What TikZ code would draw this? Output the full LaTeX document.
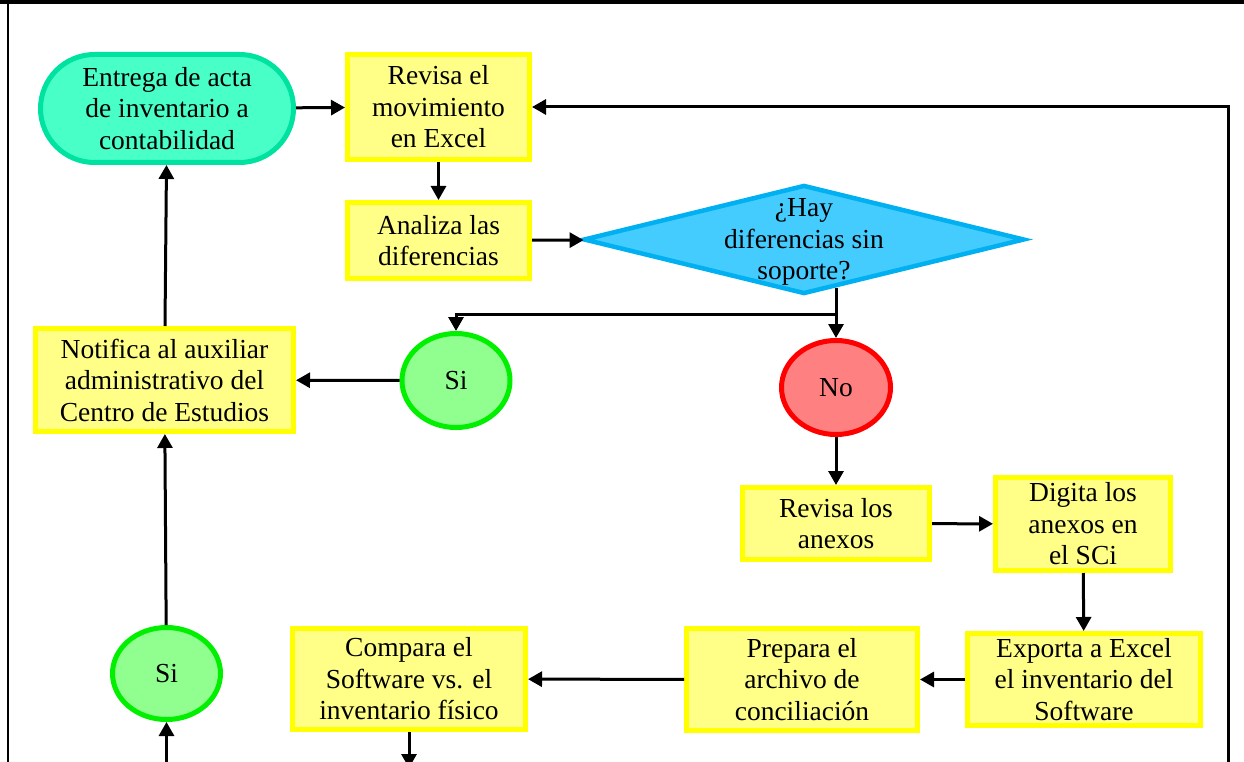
\documentclass[tikz,border=0pt]{standalone}
\usepackage{fontspec}
\setmainfont{Liberation Serif}
\newfontfamily\flowfont{Liberation Serif}
\usetikzlibrary{arrows.meta,shapes.geometric}

\definecolor{boxfill}{RGB}{255,255,136}
\definecolor{boxline}{RGB}{255,255,0}
\definecolor{termfill}{RGB}{72,255,200}
\definecolor{termline}{RGB}{0,226,160}
\definecolor{decfill}{RGB}{68,204,255}
\definecolor{decline}{RGB}{0,176,240}
\definecolor{yesfill}{RGB}{144,255,144}
\definecolor{yesline}{RGB}{0,240,0}
\definecolor{nofill}{RGB}{255,128,128}
\definecolor{noline}{RGB}{255,0,0}

\tikzset{
  txt/.style={font=\flowfont\fontsize{27.5}{31.5}\selectfont, align=center, text=black},
  procbox/.style={txt, rectangle, draw=boxline, fill=boxfill, line width=5pt, inner sep=0pt},
  terminal/.style={txt, rectangle, rounded corners=54pt, draw=termline, fill=termfill, line width=5pt, inner sep=0pt},
  decision/.style={diamond, draw=decline, fill=decfill, line width=4.5pt, inner sep=0pt},
  yesnode/.style={txt, ellipse, draw=yesline, fill=yesfill, line width=5pt, inner sep=0pt, minimum width=108pt, minimum height=94pt},
  nonode/.style={txt, ellipse, draw=noline, fill=nofill, line width=5pt, inner sep=0pt, minimum width=109pt, minimum height=94pt},
  link/.style={line width=3pt, draw=black},
  flow/.style={link, -{Triangle[length=14pt,width=15pt]}},
}

\begin{document}
\begin{tikzpicture}[x=1pt, y=-1pt]
\useasboundingbox (0,0) rectangle (1244,762);
\clip (0,0) rectangle (1244,762);

% frame
\draw[line width=4.5pt] (0,2.25) -- (1244,2.25);
\draw[line width=2.5pt] (8,0) -- (8,762);

% steps
\node[terminal, minimum width=253pt, minimum height=108pt] (entrega) at (167,108.5)
  {Entrega de acta\\de inventario a\\contabilidad};
\node[procbox, minimum width=182pt, minimum height=105pt] (revmov) at (438.5,107)
  {Revisa el\\movimiento\\en Excel};
\node[procbox, minimum width=182pt, minimum height=76pt] (analiza) at (438.5,240.5)
  {Analiza las\\diferencias};
\node[decision, minimum width=441pt, minimum height=109pt] (dec) at (804,239.5) {};
\node[txt] (dectext) at (804,242) {¿Hay\\diferencias sin\\soporte?};

\node[yesnode] (si1) at (456,380.5) {Si};
\node[nonode] (no) at (836,387.5) {No};
\node[procbox, minimum width=258pt, minimum height=103pt] (notifica) at (164.5,380)
  {Notifica al auxiliar\\administrativo del\\Centro de Estudios};
\node[yesnode, minimum height=92pt] (si2) at (166.5,673.5) {Si};

\node[procbox, minimum width=187pt, minimum height=72pt] (revanx) at (836,523.5)
  {Revisa los\\anexos};
\node[procbox, minimum width=175pt, minimum height=93pt] (digita) at (1083,524)
  {Digita los\\anexos en\\el SCi};
\node[procbox, minimum width=233pt, minimum height=92pt] (exporta) at (1084,679.5)
  {Exporta a Excel\\el inventario del\\Software};
\node[procbox, minimum width=231pt, minimum height=102pt] (prepara) at (802,679.5)
  {Prepara el\\archivo de\\conciliación};
\node[procbox, minimum width=233pt, minimum height=101pt] (compara) at (409,679)
  {Compara el\\Software vs. el\\inventario físico};

% free ends and branch point
\coordinate (split) at (836,314);
\coordinate (loopin) at (1228,780);
\coordinate (cmpout) at (409,768);
\coordinate (si2in) at (166.5,780);

% connectors
\draw[flow] (entrega) -- (revmov);
\draw[flow] (revmov) -- (analiza);
\draw[flow] (analiza) -- (dec);
\draw[link] (split |- dec.-58) -- (split);
\draw[flow] (split) -| (si1);
\draw[flow] (split) -- (no);
\draw[flow] (si1) -- (notifica);
\draw[flow] (notifica) -- (entrega);
\draw[flow] (si2) -- (notifica);
\draw[flow] (si2in) -- (si2);
\draw[flow] (no) -- (revanx);
\draw[flow] (revanx) -- (digita);
\draw[flow] (digita) -- (exporta);
\draw[flow] (exporta) -- (prepara);
\draw[flow] (prepara) -- (compara);
\draw[flow] (compara) -- (cmpout);
\draw[flow] (loopin) |- (revmov.east);
\end{tikzpicture}
\end{document}
